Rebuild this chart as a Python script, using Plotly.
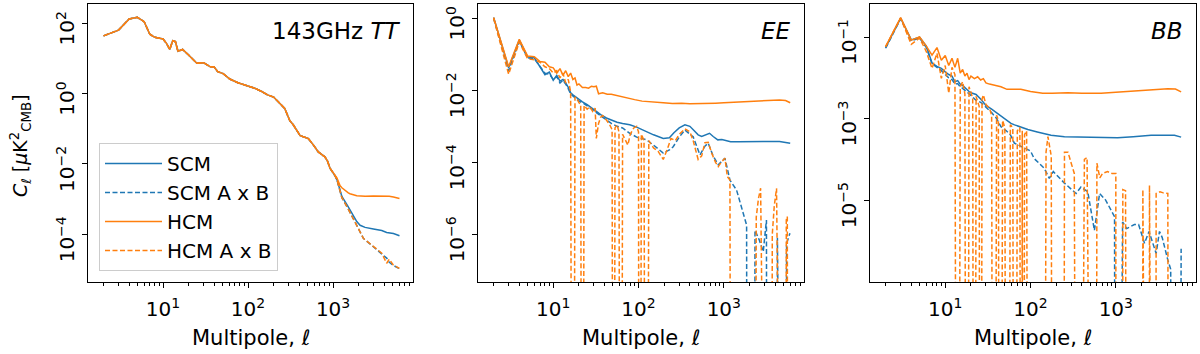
import plotly.graph_objects as go
from plotly.subplots import make_subplots

# =====================================
# DATA
# negative cross-spectrum values are kept as negative numbers
# =====================================

# ---- 143GHz TT ----
tt_ell = [2, 3, 4, 5, 6, 7, 8, 9, 10, 11, 12, 13, 14, 15, 16, 17, 20, 25, 30, 36,
          40, 44, 51, 61, 76, 95, 120, 145, 170, 200, 240, 270, 310, 340, 410, 450,
          510, 580, 670, 800, 860, 920, 1000, 1060, 1110, 1210, 1270, 1510, 1580,
          1900, 2080, 2280, 2380, 2980, 3270, 3740, 4270, 4580, 5130, 6040]
tt_hcm = [44, 64, 133, 148, 111, 49, 40, 37, 36, 27, 18, 32, 30, 16, 17, 18, 12.5, 7.3,
          7.6, 5.8, 5.7, 4.2, 3.7, 2.6, 2.04, 1.72, 1.42, 1.15, 0.92, 0.8, 0.52, 0.38,
          0.17, 0.13, 0.064, 0.058, 0.053, 0.036, 0.022, 0.016, 0.012, 0.0076, 0.0058,
          0.0045, 0.004, 0.0024, 0.0021, 0.0015, 0.00142, 0.00125, 0.00122, 0.00121,
          0.00121, 0.00122, 0.00122, 0.00122, 0.00121, 0.0012, 0.00115, 0.00104]
tt_scm = [44, 64, 133, 148, 111, 49, 40, 37, 36, 27, 18, 32, 30, 16, 17, 18, 12.5, 7.3,
          7.6, 5.8, 5.7, 4.2, 3.7, 2.6, 2.04, 1.72, 1.42, 1.15, 0.92, 0.8, 0.52, 0.38,
          0.17, 0.13, 0.064, 0.058, 0.053, 0.036, 0.022, 0.016, 0.012, 0.0076, 0.0058,
          0.0045, 0.0036, 0.0016, 0.0012, 0.0006, 0.0005, 0.00023, 0.00018, 0.00016,
          0.000157, 0.000142, 0.000138, 0.000128, 0.000113, 0.00011, 0.000105, 0.000091]
tt_scm_x = [44, 64, 133, 148, 111, 49, 40, 37, 36, 27, 18, 32, 30, 16, 17, 18, 12.5, 7.3,
            7.6, 5.8, 5.7, 4.2, 3.7, 2.6, 2.04, 1.72, 1.42, 1.15, 0.92, 0.8, 0.52, 0.38,
            0.17, 0.13, 0.064, 0.058, 0.053, 0.036, 0.022, 0.016, 0.012, 0.0076, 0.0058,
            0.0045, 0.0036, 0.0016, 0.0011, 0.00052, 0.00042, 0.00019, 0.00012, 0.000076,
            0.00007, 0.000044, 0.000038, 0.000029, 0.000021, 0.000016, 0.000013, 0.0000105]
tt_hcm_x = [44, 64, 133, 148, 111, 49, 40, 37, 36, 27, 18, 32, 30, 16, 17, 18, 12.5, 7.3,
            7.6, 5.8, 5.7, 4.2, 3.7, 2.6, 2.04, 1.72, 1.42, 1.15, 0.92, 0.8, 0.52, 0.38,
            0.17, 0.13, 0.064, 0.058, 0.053, 0.036, 0.022, 0.016, 0.012, 0.0076, 0.0058,
            0.0045, 0.0036, 0.0016, 0.0011, 0.00052, 0.00042, 0.00019, 0.00012, 0.000076,
            0.00007, 0.000044, 0.000038, 0.000029, 0.000015, 0.0000195, 0.0000133, 0.0000107]

# ---- EE ----
ee_ell_scm = [2, 3, 4, 5, 6, 7, 8, 9, 10, 11, 12, 13, 14, 15, 16, 17, 18, 19, 20, 22, 25,
              28, 32, 36, 42, 48, 56, 65, 79, 95, 124, 150, 195, 230, 260, 300, 350, 400,
              450, 500, 550, 620, 680, 750, 850, 950, 1050, 1200, 1500, 2000, 2900, 4500,
              5300, 6000]
ee_scm = [1.05, 0.042, 0.25, 0.085, 0.08, 0.045, 0.027, 0.032, 0.019, 0.026, 0.018, 0.02,
          0.016, 0.012, 0.0085, 0.0075, 0.0068, 0.006, 0.0055, 0.0048, 0.004, 0.0032,
          0.0026, 0.0021, 0.0017, 0.0015, 0.0013, 0.0012, 0.0011, 0.00095, 0.00071,
          0.00058, 0.00046, 0.00048, 0.00066, 0.0009, 0.0011, 0.001, 0.00075, 0.00058,
          0.00052, 0.0006, 0.00064, 0.00052, 0.00042, 0.00043, 0.0004, 0.00037, 0.00037,
          0.00038, 0.00038, 0.00038, 0.00036, 0.00034]
ee_ell_scm_x = [2, 3, 4, 5, 6, 7, 8, 9, 10, 11, 12, 13, 14, 15, 16, 17, 18, 19, 20, 22,
                25, 28, 32, 36, 42, 48, 56, 65, 79, 95, 124, 150, 195, 230, 255, 300, 350,
                400, 437, 525, 600, 656, 750, 860, 960, 1030, 1180, 1410, 1600, 1850, 1900,
                2250, 2320, 2600, 2900, 3160, 3250, 4150, 4250, 4350, 5300, 5440, 5960]
ee_scm_x = [1.0, 0.035, 0.23, 0.08, 0.075, 0.045, 0.03, 0.028, 0.02, 0.024, 0.016, 0.019,
            0.015, 0.011, 0.008, 0.007, 0.006, 0.0055, 0.005, 0.0045, 0.0037, 0.003,
            0.0024, 0.0019, 0.0015, 0.0012, 0.001, 0.0009, 0.00064, 0.0005, 0.00042,
            0.0003, 0.00018, 0.00022, 0.00027, 0.0005, 0.00079, 0.0006, 0.00051, 0.00016,
            0.00028, 0.00034, 0.00015, 0.000085, 0.00011, 0.00013, 0.000032, 0.000017,
            0.000006, 0.0000018, -1e-6, -1e-6, 0.0000013, 0.0000007, 0.00000033,
            0.0000025, -1e-6, -1e-6, 0.0000008, -1e-6, -1e-6, 0.00000056, 0.00000107]
ee_ell_hcm = [2, 3, 4, 5, 6, 7, 8, 9, 10, 11, 12, 13, 14, 15, 16, 17, 18, 19, 20, 22, 24,
              26, 28, 30, 32, 34, 38, 43, 48, 55, 63, 75, 90, 110, 130, 160, 195, 250, 320,
              400, 480, 600, 800, 1000, 1200, 1600, 2000, 2900, 4500, 5300, 6000]
ee_hcm = [1.05, 0.045, 0.26, 0.09, 0.085, 0.063, 0.06, 0.045, 0.042, 0.03, 0.04, 0.026,
          0.035, 0.024, 0.03, 0.02, 0.022, 0.014, 0.015, 0.012, 0.012, 0.0115, 0.013,
          0.0125, 0.013, 0.008, 0.0085, 0.0078, 0.0078, 0.0072, 0.0065, 0.006, 0.0055,
          0.005, 0.0048, 0.0046, 0.0045, 0.0043, 0.0044, 0.0042, 0.0042, 0.0043, 0.0044,
          0.0045, 0.0046, 0.0048, 0.005, 0.0052, 0.0054, 0.0052, 0.0045]
ee_ell_hcm_x = [2, 3, 4, 5, 6, 7, 8, 9, 10, 11, 12, 13, 14, 15, 16, 17, 18, 19, 20, 21,
                22, 23, 25, 27, 29, 31, 32, 34, 36, 38, 42, 46, 49, 51, 53, 56, 59, 62, 65,
                70, 75, 80, 88, 95, 100, 102, 108, 116, 124, 132, 150, 170, 195, 220, 240,
                270, 300, 350, 400, 437, 500, 550, 600, 656, 720, 800, 860, 930, 1030, 1100,
                1180, 1230, 2250, 2400, 2550, 2700, 2780, 3550, 3700, 3900, 4150, 4250,
                5300, 5400, 5550, 5700]
ee_hcm_x = [1.0, 0.028, 0.22, 0.075, 0.07, 0.06, 0.045, 0.04, 0.03, 0.035, 0.022, 0.03,
            0.016, 0.02, 0.009, -1e-6, 0.0065, 0.006, 0.0045, 0.0042, -1e-6, 0.0038,
            0.003, 0.0035, 0.0026, 0.0032, 0.00046, 0.0012, 0.0018, 0.002, 0.0015, 0.0011,
            0.0008, -1e-6, 0.0009, 0.0011, 0.0007, -1e-6, 0.0006, 0.0004, 0.0003, 0.0006,
            0.0009, 0.001, 0.0007, -1e-6, 0.0006, 0.0004, -1e-6, 0.0004, 0.00025, 0.0002,
            0.00012, 0.00025, 0.00046, 0.0004, 0.0006, 0.00085, 0.0007, 0.0004, 0.00012,
            0.00015, 0.00035, 0.00036, 0.00018, 0.0001, 0.000076, 0.0001, 0.00013,
            0.00004, 0.000032, -1e-6, -1e-6, 3e-6, 1e-5, 1.9e-5, -1e-6, -1e-6, 1e-6, 6e-6,
            1.9e-5, -1e-6, -1e-6, 2.5e-6, 3.1e-6, -1e-6]

# ---- BB ----
bb_ell_scm = [2, 3, 4, 5, 6, 7, 8, 9, 10, 11, 12, 13, 14, 15, 16, 17, 18, 19, 20, 23, 26,
              30, 35, 40, 47, 53, 59, 65, 75, 93, 120, 174, 250, 428, 700, 1050, 1600,
              2590, 4870, 5830]
bb_scm = [0.055, 0.29, 0.085, 0.1, 0.06, 0.023, 0.019, 0.017, 0.014, 0.012, 0.011, 0.008,
          0.0085, 0.007, 0.0065, 0.0057, 0.005, 0.0046, 0.0043, 0.0039, 0.003, 0.0021,
          0.0017, 0.0014, 0.0011, 0.0009, 0.00076, 0.0007, 0.00062, 0.00054, 0.00047,
          0.00039, 0.00036, 0.00035, 0.00034, 0.00034, 0.00036, 0.00039, 0.00039, 0.00035]
bb_ell_scm_x = [2, 3, 4, 5, 6, 7, 8, 9, 10, 11, 12, 13, 14, 15, 16, 17, 18, 19, 20, 23,
                26, 30, 35, 40, 45, 52, 58, 64.6, 80, 93, 100, 110, 145, 166, 185, 250,
                342, 390, 469, 561, 645, 760, 966, 1000, 1150, 1200, 1340, 1650, 1850,
                2170, 2450, 2970, 3250, 3500, 4070, 4400, 4600, 5500, 5830]
bb_scm_x = [0.053, 0.28, 0.08, 0.095, 0.055, 0.022, 0.018, 0.015, 0.012, 0.01, 0.009,
            0.007, 0.0072, 0.006, 0.0055, 0.005, 0.0045, 0.004, 0.0037, 0.0028, 0.0025,
            0.0019, 0.0014, 0.001, 0.00063, 0.0005, 0.0004, 0.00025, 0.0002, 0.00017,
            0.00016, 0.000105, 0.00006, 0.000034, 0.00005, 0.000026, 0.0000145, 0.000021,
            0.000016, 0.0000018, 0.0000145, 0.00001, 0.0000039, -1e-6, -1e-6, 0.0000029,
            0.000002, 0.0000025, 0.0000025, 0.00000087, 0.0000017, 0.00000049, 0.0000017,
            0.0000012, 0.00000034, 0.0000002, -1e-6, -1e-6, 0.00000064]
bb_ell_hcm = [2, 3, 4, 5, 6, 7, 8, 9, 10, 11, 12, 13, 14, 15, 16, 17, 18, 19, 20, 22, 24,
              26, 28, 30, 33, 37, 41, 45, 53, 62, 77, 100, 139, 180, 273, 400, 672, 1000,
              1650, 2600, 4070, 5000, 5830]
bb_hcm = [0.058, 0.3, 0.084, 0.1, 0.06, 0.036, 0.055, 0.027, 0.035, 0.02, 0.03, 0.018,
          0.03, 0.013, 0.016, 0.011, 0.013, 0.009, 0.011, 0.0095, 0.0106, 0.0088, 0.0095,
          0.0075, 0.007, 0.0066, 0.0062, 0.006, 0.0052, 0.0052, 0.0052, 0.0046, 0.0042,
          0.0042, 0.0043, 0.0042, 0.0042, 0.0044, 0.0048, 0.0052, 0.0054, 0.0053, 0.0045]
bb_ell_hcm_x = [2, 3, 4, 5, 6, 7, 8, 9, 10, 11, 12, 13, 14, 15, 16, 17, 18, 19, 20, 21,
                22, 23, 24, 25, 26, 27, 28, 30, 33, 35, 37, 40, 42, 44, 47, 50, 53, 58, 62,
                65, 70, 75, 78, 80, 82, 85, 90, 97, 140, 152, 160, 175, 185, 240, 250, 275,
                300, 326, 358, 410, 428, 460, 490, 580, 600, 650, 700, 800, 900, 1000, 1010,
                1200, 1208, 1300, 1380, 2050, 2075, 2100, 2450, 2480, 2510, 2900, 2970,
                3300, 3600, 4070, 4260]
bb_hcm_x = [0.058, 0.29, 0.066, 0.095, 0.044, 0.017, 0.04, 0.0097, 0.02, 0.0042, 0.018,
            0.012, -1e-6, 0.006, 0.008, 0.004, -1e-6, 0.006, 0.0045, 0.003, -1e-6, 0.0035,
            0.0026, 0.002, -1e-6, 0.003, 0.0038, 0.0022, 0.0018, 0.0012, -1e-6, 0.0012,
            0.0009, -1e-6, 0.0009, 0.0006, -1e-6, 0.0007, 0.0006, -1e-6, 0.0005, 0.0006,
            -1e-6, 0.0005, -1e-6, 0.0004, 0.0005, -1e-6, -1e-6, 0.00015, 0.00036, 0.00012,
            -1e-6, -1e-6, 0.00015, 0.00015, 0.00008, 0.000045, -1e-6, -1e-6, 0.0001,
            0.00011, -1e-6, -1e-6, 0.00008, 0.000035, 0.000045, 0.00005, 0.000045,
            0.000045, -1e-6, -1e-6, 0.000018, 0.000017, -1e-6, -1e-6, 0.000018, -1e-6,
            -1e-6, 0.000023, -1e-6, -1e-6, 0.0000145, 0.000016, 0.000015, 0.0000145, -1e-6]

panel_titles = ["143GHz <i>TT</i>", "<i>EE</i>", "<i>BB</i>"]
x_tick_vals = [10, 100, 1000]
x_tick_text = ["10<sup>1</sup>", "10<sup>2</sup>", "10<sup>3</sup>"]
y_tick_vals = [[1e2, 1e0, 1e-2, 1e-4], [1e0, 1e-2, 1e-4, 1e-6], [1e-1, 1e-3, 1e-5]]
y_tick_text = [["10<sup>2</sup>", "10<sup>0</sup>", "10<sup>−2</sup>", "10<sup>−4</sup>"],
               ["10<sup>0</sup>", "10<sup>−2</sup>", "10<sup>−4</sup>", "10<sup>−6</sup>"],
               ["10<sup>−1</sup>", "10<sup>−3</sup>", "10<sup>−5</sup>"]]

BLUE = "#1f77b4"
ORANGE = "#ff7f0e"
FONT = "DejaVu Sans"


def clip_log(vals):
    # log axis: non-positive values fall off the bottom (as matplotlib draws them)
    return [v if v > 0 else 1e-30 for v in vals]


panels = [
    [(tt_ell, tt_scm), (tt_ell, tt_scm_x), (tt_ell, tt_hcm), (tt_ell, tt_hcm_x)],
    [(ee_ell_scm, ee_scm), (ee_ell_scm_x, ee_scm_x), (ee_ell_hcm, ee_hcm), (ee_ell_hcm_x, ee_hcm_x)],
    [(bb_ell_scm, bb_scm), (bb_ell_scm_x, bb_scm_x), (bb_ell_hcm, bb_hcm), (bb_ell_hcm_x, bb_hcm_x)],
]
names = ["SCM", "SCM A x B", "HCM", "HCM A x B"]
styles = [(BLUE, "solid"), (BLUE, "5px,2.5px"), (ORANGE, "solid"), (ORANGE, "5px,2.5px")]

for series in panels:
    for ell, vals in series:
        assert len(ell) == len(vals), (len(ell), len(vals))

# =====================================
# FIGURE
# =====================================

fig = make_subplots(rows=1, cols=3)

for p, series in enumerate(panels):
    for k, (ell, vals) in enumerate(series):
        color, dash = styles[k]
        fig.add_trace(
            go.Scatter(
                x=ell,
                y=clip_log(vals),
                mode="lines",
                name=names[k],
                line=dict(color=color, width=1.5, dash=dash),
                showlegend=(p == 0),
                hoverinfo="skip",
            ),
            row=1, col=p + 1,
        )

# plot areas in pixels (1200 x 354 canvas)
W, H = 1200, 354
x_doms = [(88, 413), (478, 804), (870, 1196)]
y_dom = (1 - 282 / H, 1 - 4 / H)
y_ranges = [[-5.357, 2.549], [-7.325, 0.397], [-7.01, -0.19]]

minor_x = [m * 10 ** d for d in range(0, 4) for m in range(2, 10)]

for p in range(3):
    ax = "" if p == 0 else str(p + 1)
    fig.layout["xaxis" + ax].update(
        domain=[x_doms[p][0] / W, x_doms[p][1] / W],
        type="log",
        range=[0.118, 3.94],
        tickvals=x_tick_vals,
        ticktext=x_tick_text,
        ticks="outside",
        ticklen=5,
        tickwidth=1,
        tickcolor="black",
        ticklabelstandoff=4,
        minor=dict(tickvals=minor_x, ticks="outside", ticklen=3, tickwidth=0.8, tickcolor="black"),
        showline=True,
        linecolor="black",
        linewidth=1.2,
        mirror=True,
        showgrid=False,
        zeroline=False,
        automargin=False,
        tickfont=dict(family=FONT, size=20, color="black"),
    )
    fig.layout["yaxis" + ax].update(
        domain=list(y_dom),
        type="log",
        range=y_ranges[p],
        tickvals=y_tick_vals[p],
        ticktext=y_tick_text[p],
        tickangle=-90,
        ticklabelshift=8,
        ticklabeloverflow="allow",
        ticks="outside",
        ticklen=5,
        tickwidth=1,
        tickcolor="black",
        showline=True,
        linecolor="black",
        linewidth=1.2,
        mirror=True,
        showgrid=False,
        zeroline=False,
        automargin=False,
        tickfont=dict(family=FONT, size=20, color="black"),
    )
    # panel label, top right
    fig.add_annotation(
        xref="paper", yref="paper",
        x=(x_doms[p][1] - 11) / W, y=1 - 31 / H,
        xanchor="right", yanchor="middle",
        text=panel_titles[p], showarrow=False,
        font=dict(family=FONT, size=23, color="black"),
    )
    # x axis title
    fig.add_annotation(
        xref="paper", yref="paper",
        x=(x_doms[p][0] + x_doms[p][1]) / 2 / W, y=1 - 338 / H,
        xanchor="center", yanchor="middle",
        text="Multipole, <i>ℓ</i>", showarrow=False,
        font=dict(family=FONT, size=21, color="black"),
    )

# y axis title
fig.add_annotation(
    xref="paper", yref="paper",
    x=20 / W, y=1 - 146 / H,
    xanchor="center", yanchor="middle", textangle=-90,
    text="<i>C</i><sub><i>ℓ</i></sub> [<i>μ</i>K<sup>2</sup><sub>CMB</sub>]",
    showarrow=False,
    font=dict(family=FONT, size=19, color="black"),
)

fig.update_layout(
    width=W,
    height=H,
    margin=dict(l=0, r=0, t=0, b=0),
    paper_bgcolor="white",
    plot_bgcolor="white",
    font=dict(family=FONT, size=16, color="black"),
    legend=dict(
        x=99 / W, y=1 - 143 / H,
        xanchor="left", yanchor="top",
        bgcolor="rgba(255,255,255,0.8)",
        bordercolor="#cccccc",
        borderwidth=1,
        itemwidth=57,
        font=dict(family=FONT, size=20, color="black"),
        tracegroupgap=0,
    ),
)

# the page's default body margin would shift the chart by 8px
fig.write_html(
    "out.html",
    config={"displayModeBar": False},
    post_script="document.body.style.margin = '0px';",
)
